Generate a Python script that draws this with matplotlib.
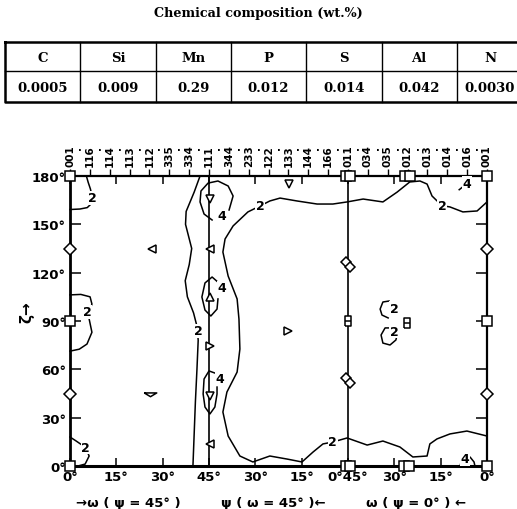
import matplotlib
matplotlib.use('Agg')
import matplotlib.pyplot as plt
import numpy as np

# --- data -----------------------------------------------------------------
elements = ['C', 'Si', 'Mn', 'P', 'S', 'Al', 'N']
wt_pct = ['0.0005', '0.009', '0.29', '0.012', '0.014', '0.042', '0.0030']

hkl_labels = ['001', '116', '114', '113', '112', '335', '334', '111',
              '344', '233', '122', '133', '144', '166', '011',
              '034', '035', '012', '013', '014', '016', '001']

x_ticks = [0, 15, 30, 45, 60, 75, 90, 105, 120, 135]
x_ticklabels = ['0°', '15°', '30°', '45°', '30°', '15°', '0°45°', '30°', '15°', '0°']
y_ticks = [0, 30, 60, 90, 120, 150, 180]
y_ticklabels = ['0°', '30°', '60°', '90°', '120°', '150°', '180°']

# iso-intensity lines (x = combined abscissa, y = zeta)
c2_top_left = [(5.3, 180), (5.9, 176), (6.6, 172), (7.2, 167), (7.0, 163),
               (5.6, 160.4), (3.2, 159.5), (0, 159.2)]
c2_left_90 = [(0, 106.2), (3.5, 106.5), (6.5, 105), (7.1, 100.5), (6.3, 96),
              (6.2, 91.2), (7.1, 83), (5.5, 75.7), (3.0, 72.5), (0, 71.3)]
c2_bottom_left = [(0, 18), (2.0, 15.5), (3.9, 13), (5.2, 10.5), (6.2, 6.2),
                  (4.9, 1.2), (2.6, 0)]
c2_strip = [(42.1, 180), (40.2, 170), (37.6, 158), (37.4, 150), (39.4, 135),
            (38.6, 125), (37.3, 115), (38.0, 105), (40.0, 95), (41.2, 86),
            (41.5, 78), (41.1, 60), (40.6, 40), (40.2, 20), (39.8, 0)]
c2_big = [(135, 163.9), (131.8, 158.3), (127.2, 157.7), (123, 160.8),
          (120.4, 161.6), (117.2, 167.6), (115.6, 175), (113.3, 176.9),
          (110, 176.3), (105.9, 170), (101.3, 163.9), (94.9, 165.7),
          (89.7, 163.9), (85.1, 162.6), (80, 162.6), (73.5, 164.5),
          (68, 166.3), (64.7, 164.5), (61.5, 161.4), (57.6, 157.7),
          (52.8, 149), (50.2, 140.9), (49.5, 132.8), (51.2, 117.9),
          (54.1, 103.7), (54.7, 91.2), (55, 72.6), (54.1, 58.3),
          (50.8, 45.9), (49.5, 33.5), (51.2, 18.6), (55, 6.2), (59.2, 2.5),
          (64.7, 6.2), (70.3, 4.3), (75.1, 2.5), (78.7, 8.7), (81.9, 13.7),
          (85.1, 14.9), (89.7, 17.4), (96.2, 13), (101.3, 15.5),
          (106.8, 11.8), (111, 5.6), (115.6, 6.2), (116.5, 13.7),
          (118.8, 16.8), (123, 19.9), (128.5, 21.7), (135, 18.6)]
c2_small_a = [(103.3, 102.4), (101.3, 101.8), (100.4, 97.4), (101, 93.7), (103, 91.9)]
c2_small_b = [(104.2, 85.7), (102, 85.7), (100.7, 81.3), (101.3, 76.3),
              (103.6, 75.1), (105.5, 78.2), (105.9, 81.3)]
c4_top = [(51.5, 158.9), (52.8, 167.6), (51.2, 173.8), (47.9, 176.9),
          (44.7, 175.6), (42.4, 170.7), (42.1, 163.9), (43.4, 156.4), (46, 152.7)]
c4_mid = [(48.2, 113.6), (46, 117.3), (43.7, 113.6), (42.7, 104.9),
          (43.7, 96.8), (45.6, 93.1), (47.6, 97.4), (47.9, 103.7)]
c4_low = [(46.9, 57.7), (45, 59), (43.4, 54), (43.1, 44.7), (43.7, 36.6),
          (45.3, 32.3), (46.9, 36.6), (47.6, 44.7), (47.6, 49)]
c4_corner = [(126.3, 0), (126.9, 5), (129.5, 5.6), (130.8, 2.5), (131.1, 0)]
c4_top_corner = [(126.0, 171.5), (128.0, 174.5)]

contour_lines = [c2_top_left, c2_left_90, c2_bottom_left, c2_strip, c2_big,
                 c2_small_a, c2_small_b, c4_top, c4_mid, c4_low, c4_corner,
                 c4_top_corner]

# contour level labels: (x, y, text)
level_labels = [(7.4, 166.5, '2'), (5.6, 95.6, '2'), (5.0, 11.5, '2'),
                (41.4, 84, '2'), (61.5, 161.4, '2'), (120.4, 161.6, '2'),
                (85.1, 14.9, '2'), (104.9, 98, '2'), (104.9, 83.5, '2'),
                (49.2, 155.2, '4'), (49.2, 110.5, '4'), (48.6, 54, '4'),
                (127.9, 4.5, '4'), (128.6, 175.5, '4')]

# ideal orientation symbols
squares = [(0, 180), (0, 90), (0, 0), (135, 180), (135, 90), (135, 0),
           (89.3, 180), (90.7, 180), (89.3, 0), (90.7, 0),
           (108.3, 180), (110.1, 180), (108.0, 0), (109.8, 0)]
small_rects = [(90, 90), (109, 89)]
diamonds = [(0, 135), (0, 45), (135, 135), (135, 45)]
double_diamonds = [(90, 125), (90, 53)]
tri_down = [(45.3, 165.7), (45.3, 43.4), (70.9, 175)]
tri_left = [(45.3, 134.7), (45.3, 13.7), (26.5, 134.7)]
tri_up = [(45.3, 104.9)]
tri_right = [(45.3, 74.5), (70.6, 83.8)]
tri_flat = [(25.9, 44.7)]

# --- figure ---------------------------------------------------------------
plt.rcParams['font.family'] = ['Liberation Sans Narrow', 'DejaVu Sans']
fig = plt.figure(figsize=(5.17, 5.10), dpi=100)

serif = ['DejaVu Serif']
fig.text(0.5, 1 - 13 / 510, 'Chemical composition (wt.%)', ha='center', va='center',
         fontsize=9.2, fontweight='bold', family=serif)

# table drawn in pixel-like figure coordinates
W, H = 517.0, 510.0
col_edges = [5 + 75.3 * i for i in range(8)]
row_edges = [43, 72, 103]
tab = fig.add_axes([0, 0, 1, 1], facecolor='none')
tab.set_xlim(0, W)
tab.set_ylim(H, 0)
tab.axis('off')
for xe in col_edges[1:-1]:
    tab.plot([xe, xe], [row_edges[0], row_edges[2]], color='black', lw=1.0)
tab.plot([col_edges[0], col_edges[-1]], [row_edges[1]] * 2, color='black', lw=1.0)
tab.plot([col_edges[0], col_edges[-1], col_edges[-1], col_edges[0], col_edges[0]],
         [row_edges[0], row_edges[0], row_edges[2], row_edges[2], row_edges[0]],
         color='black', lw=1.8, clip_on=False)
for i, (el, val) in enumerate(zip(elements, wt_pct)):
    xc = (col_edges[i] + col_edges[i + 1]) / 2
    if i == len(elements) - 1:
        xc = 490
    tab.text(xc, (row_edges[0] + row_edges[1]) / 2 + 1, el, ha='center', va='center',
             fontsize=9.5, fontweight='bold', family=serif)
    tab.text(xc, (row_edges[1] + row_edges[2]) / 2 + 1, val, ha='center', va='center',
             fontsize=9.5, fontweight='bold', family=serif)

# ODF section
ax = fig.add_axes([70 / W, 1 - 467 / H, 417 / W, 290 / H])
ax.set_xlim(0, 135)
ax.set_ylim(0, 180)
for s in ax.spines.values():
    s.set_linewidth(1.6)
ax.spines['bottom'].set_linewidth(2.2)
ax.spines['left'].set_linewidth(2.0)

ax.axvline(45, color='black', lw=1.2)
ax.axvline(90, color='black', lw=1.2)

for line in contour_lines:
    xs, ys = zip(*line)
    ax.plot(xs, ys, color='black', lw=1.1, clip_on=False)

for x, y, t in level_labels:
    ax.text(x, y, t, ha='center', va='center', fontsize=9, fontweight='bold',
            bbox=dict(facecolor='white', edgecolor='none', pad=0.3))

mk = dict(linestyle='none', markerfacecolor='white', markeredgecolor='black',
          markeredgewidth=1.1, clip_on=False, zorder=5)
ax.plot(*zip(*squares), marker='s', markersize=6.5, **mk)
rect_marker = [(-0.6, -1), (0.6, -1), (0.6, 1), (-0.6, 1), (-0.6, -1)]
ax.plot(*zip(*small_rects), marker=rect_marker, markersize=7, **mk)
ax.plot(*zip(*small_rects), marker='_', markersize=4, **mk)
ax.plot(*zip(*diamonds), marker='D', markersize=6, **mk)
dd = [(x - 0.7, y + 1.4) for x, y in double_diamonds] + [(x + 0.7, y - 1.4) for x, y in double_diamonds]
ax.plot(*zip(*dd), marker='D', markersize=5.5, **mk)
ax.plot(*zip(*tri_down), marker='v', markersize=6, **mk)
ax.plot(*zip(*tri_left), marker='<', markersize=6, **mk)
ax.plot(*zip(*tri_up), marker='^', markersize=6, **mk)
ax.plot(*zip(*tri_right), marker='>', markersize=6, **mk)
flat_marker = [(-1, 0.25), (1, 0.25), (0, -0.35), (-1, 0.25)]
ax.plot(*zip(*tri_flat), marker=flat_marker, markersize=9, **mk)

tick_font = dict(fontsize=9.5, fontweight='bold')
ax.set_xticks(x_ticks)
ax.set_xticklabels(x_ticklabels, **tick_font)
ax.set_yticks(y_ticks)
ax.set_yticklabels(y_ticklabels, **tick_font)
ax.tick_params(axis='x', direction='in', length=6, width=1.1, top=True, pad=3)
ax.tick_params(axis='y', direction='in', length=8, width=1.1, right=True, pad=3)

top = ax.secondary_xaxis('top')
hkl_pos = np.arange(len(hkl_labels)) * 45 / 7
top.set_xticks(hkl_pos)
top.set_xticklabels(hkl_labels, rotation=90, fontsize=7.5, fontweight='bold')
top.tick_params(direction='out', length=5, width=1.0, pad=2)
top.spines['top'].set_visible(False)
for xm in (hkl_pos[:-1] + hkl_pos[1:]) / 2:
    ax.text(xm, 1.088, '·', transform=ax.get_xaxis_transform(), ha='center',
            va='center', fontsize=7, fontweight='bold')

ax.text(19, -0.125, '→ω ( ψ = 45° )', transform=ax.get_xaxis_transform(),
        ha='center', va='center', fontsize=9.5, fontweight='bold')
ax.text(65.7, -0.125, 'ψ ( ω = 45° )←', transform=ax.get_xaxis_transform(),
        ha='center', va='center', fontsize=9.5, fontweight='bold')
ax.text(112, -0.125, 'ω ( ψ = 0° ) ←', transform=ax.get_xaxis_transform(),
        ha='center', va='center', fontsize=9.5, fontweight='bold')

fig.text(27 / W, 1 - 312 / H, 'ζ→', rotation=90, ha='center', va='center',
         fontsize=11, fontweight='bold')

fig.savefig('out.png', dpi=100)
